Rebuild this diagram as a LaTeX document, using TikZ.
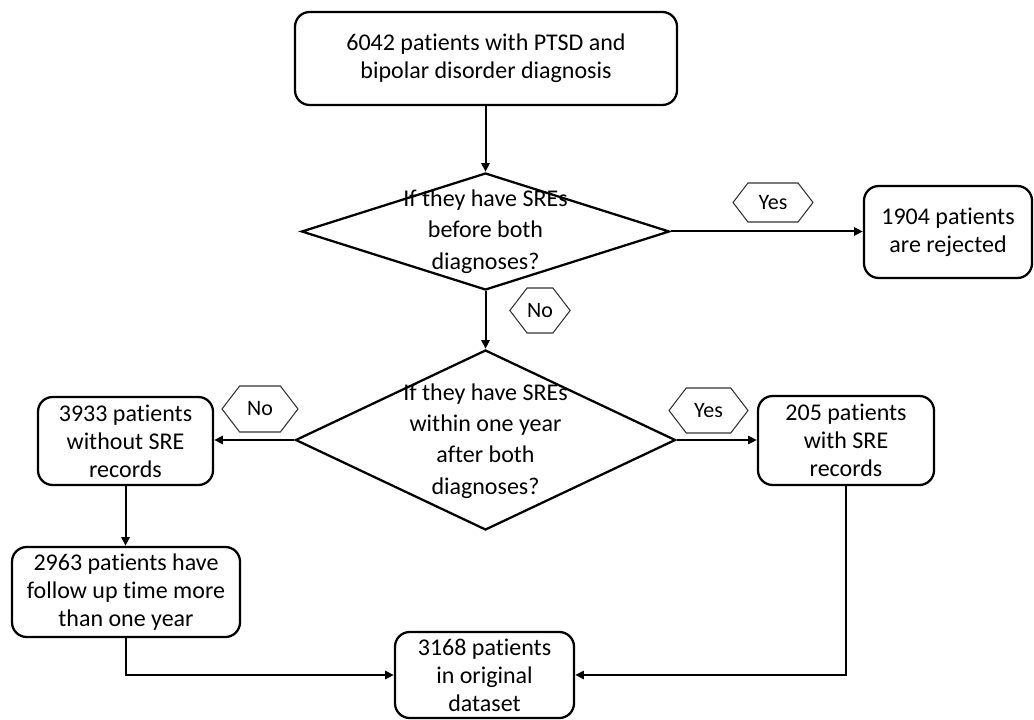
\documentclass[tikz,border=0pt]{standalone}
\usepackage{fontspec}
\setmainfont{Carlito}[Ligatures=NoCommon]
\usetikzlibrary{shapes.geometric,shapes.symbols,arrows.meta}
\begin{document}
\begin{tikzpicture}[x=0.75pt,y=-0.75pt,
  box/.style={draw, line width=1.7pt, rounded corners=11pt, align=center, inner sep=0pt,
    font=\fontsize{18}{21}\selectfont},
  dia/.style={draw, diamond, line width=1.7pt, inner sep=0pt},
  diatext/.style={align=center, inner sep=0pt, font=\fontsize{18}{23.5}\selectfont},
  hexa/.style={draw, signal, signal to=east and west, signal pointer angle=105,
    line width=0.8pt, draw=black!80, inner sep=0pt, font=\fontsize{16.5}{18}\selectfont},
  arr/.style={line width=1.5pt, -{Triangle[length=6.5pt,width=6pt]}},
  ln/.style={line width=1.5pt}
]
\useasboundingbox (0,0) rectangle (1034,720);

\node[box, minimum width=382*0.75pt, minimum height=93*0.75pt] (top) at (486,58.5)
  {6042 patients with PTSD and\\bipolar disorder diagnosis};

\node[dia, minimum width=368*0.75pt, minimum height=117*0.75pt] (d1) at (485.5,231.5) {};
\node[diatext] (d1t) at (485.5,231.5) {If they have SREs\\before both\\diagnoses?};

\node[box, minimum width=168*0.75pt, minimum height=92*0.75pt] (rej) at (948,232)
  {1904 patients\\are rejected};

\node[dia, minimum width=380*0.75pt, minimum height=180*0.75pt] (d2) at (485.5,440) {};
\node[diatext] (d2t) at (485.5,441) {If they have SREs\\within one year\\after both\\diagnoses?};

\node[box, minimum width=175*0.75pt, minimum height=88*0.75pt] (nsre) at (125.5,441)
  {3933 patients\\without SRE\\records};

\node[box, minimum width=176*0.75pt, minimum height=89*0.75pt] (wsre) at (846,440.5)
  {205 patients\\with SRE\\records};

\node[box, minimum width=228*0.75pt, minimum height=90*0.75pt] (fup) at (126,592)
  {2963 patients have\\follow up time more\\than one year};

\node[box, minimum width=179*0.75pt, minimum height=86*0.75pt] (orig) at (484.5,675)
  {3168 patients\\in original\\dataset};

\node[hexa, minimum width=80*0.75pt, minimum height=39*0.75pt] (yes1) at (773,202.5) {Yes};
\node[hexa, minimum width=60*0.75pt, minimum height=45*0.75pt] (no1) at (540,310.5) {No};
\node[hexa, minimum width=76*0.75pt, minimum height=46*0.75pt] (no2) at (260,409) {No};
\node[hexa, minimum width=79*0.75pt, minimum height=45*0.75pt] (yes2) at (708.5,410.5) {Yes};

\draw[arr] (top.south -| d1.north) -- (d1.north);
\draw[arr] (d1.east) -- (d1.east -| rej.west);
\draw[arr] (d1.south) -- (d2.north);
\draw[arr] (d2.west) -- (d2.west -| nsre.east);
\draw[arr] (d2.east) -- (d2.east -| wsre.west);
\draw[arr] (nsre.south) -- (fup.north -| nsre.south);
\draw[arr] (fup.south) |- (orig.west);
\draw[arr] (wsre.south) |- (orig.east);
\end{tikzpicture}
\end{document}
